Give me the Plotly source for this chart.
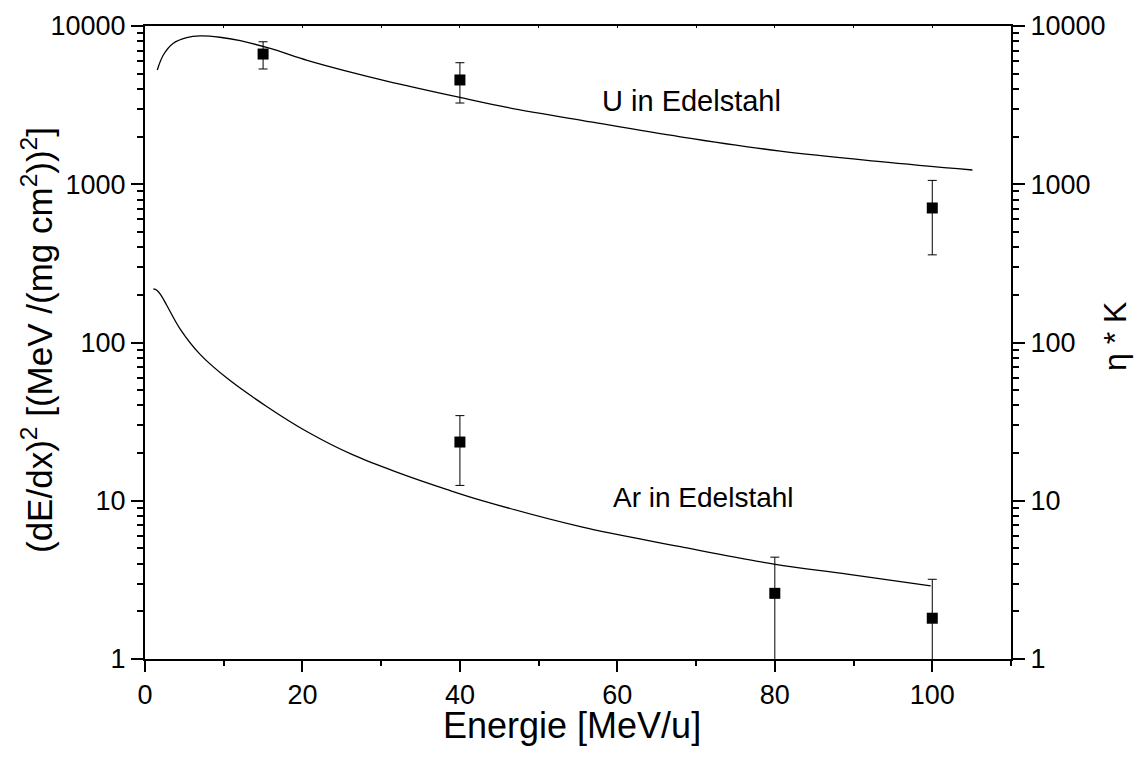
import math
import plotly.graph_objects as go

# ---- data ----
u_curve_x = [1.56, 2.33, 3.6, 5.3, 7.0, 9.5, 12.1, 15.9, 20.6, 25.6, 30.7, 40.0, 46.0, 56.6, 68.0, 80.7, 93.4, 105.1]
u_curve_y = [5270, 6560, 7780, 8440, 8650, 8490, 8080, 7210, 6070, 5190, 4490, 3540, 3060, 2480, 1995, 1620, 1390, 1230]

ar_curve_x = [1.06, 1.5, 2.0, 2.76, 4.45, 7.0, 10.4, 15.5, 20.55, 26.5, 32.4, 38.3, 42.6, 55.3, 68.0, 79.9, 89.2, 99.8]
ar_curve_y = [218, 214, 200, 172, 122, 84.1, 59.6, 39.3, 27.4, 19.4, 14.9, 11.8, 10.1, 6.86, 5.13, 3.98, 3.44, 2.90]

u_pts_x = [15, 40, 100]
u_pts_y = [6650, 4560, 708]
u_pts_err = [1300, 1300, 350]

ar_pts_x = [40, 80, 100]
ar_pts_y = [23.5, 2.6, 1.81]
ar_pts_err = [11.0, 1.8, 1.38]

x_tick_vals = [0, 20, 40, 60, 80, 100]
y_tick_vals = [1, 10, 100, 1000, 10000]
y_tick_text = ["1", "10", "100", "1000", "10000"]

FONT = "Liberation Sans, Arial, sans-serif"

fig = go.Figure()

fig.add_trace(go.Scatter(x=u_curve_x, y=u_curve_y, mode="lines",
                         line=dict(color="black", width=1.3, shape="spline", smoothing=1.0),
                         showlegend=False))
fig.add_trace(go.Scatter(x=ar_curve_x, y=ar_curve_y, mode="lines",
                         line=dict(color="black", width=1.3, shape="spline", smoothing=1.0),
                         showlegend=False))
fig.add_trace(go.Scatter(x=u_pts_x, y=u_pts_y, mode="markers",
                         marker=dict(symbol="square", size=11, color="black"),
                         error_y=dict(type="data", array=u_pts_err, color="black",
                                      thickness=1, width=4.5),
                         showlegend=False))
fig.add_trace(go.Scatter(x=ar_pts_x, y=ar_pts_y, mode="markers",
                         marker=dict(symbol="square", size=11, color="black"),
                         error_y=dict(type="data", array=ar_pts_err, color="black",
                                      thickness=1, width=4.5),
                         showlegend=False))
# invisible traces to activate right and top axes
fig.add_trace(go.Scatter(x=[None], y=[None], yaxis="y2", showlegend=False))
fig.add_trace(go.Scatter(x=[None], y=[None], xaxis="x2", showlegend=False))

axis_common = dict(showline=True, linecolor="black", linewidth=2,
                   ticks="outside", tickcolor="black", tickwidth=2,
                   showgrid=False, zeroline=False,
                   tickfont=dict(family=FONT, size=27, color="black"))

fig.update_layout(
    width=1136, height=758,
    margin=dict(l=145, r=125, t=26, b=99),
    paper_bgcolor="white", plot_bgcolor="white",
    xaxis=dict(range=[0, 110], tickvals=x_tick_vals, ticklen=11,
               minor=dict(ticks="outside", ticklen=5, tickwidth=2, tickcolor="black", dtick=10),
               **axis_common),
    xaxis2=dict(range=[0, 110], overlaying="x", side="top", showline=True,
                linecolor="black", linewidth=2, ticks="inside", ticklen=2,
                tickwidth=1, tickcolor="black", dtick=10, showticklabels=False,
                showgrid=False, zeroline=False),
    yaxis=dict(type="log", range=[0, 4], tickvals=y_tick_vals, ticktext=y_tick_text,
               ticklen=12,
               minor=dict(ticks="outside", ticklen=6, tickwidth=2, tickcolor="black", dtick="D1"),
               **axis_common),
    yaxis2=dict(type="log", range=[0, 4], tickvals=y_tick_vals, ticktext=y_tick_text,
                overlaying="y", side="right", ticklen=12,
                minor=dict(ticks="outside", ticklen=6, tickwidth=2, tickcolor="black", dtick="D1"),
                **axis_common),
)

annotations = [
    dict(text="U in Edelstahl", x=69.4, y=math.log10(3357), xref="x", yref="y",
         showarrow=False, xanchor="center", yanchor="middle",
         font=dict(family=FONT, size=29, color="black")),
    dict(text="Ar in Edelstahl", x=70.9, y=math.log10(10.56), xref="x", yref="y",
         showarrow=False, xanchor="center", yanchor="middle",
         font=dict(family=FONT, size=28, color="black")),
    dict(text="Energie [MeV/u]", x=(572 - 145) / 866, y=(659 - 725) / 633,
         xref="paper", yref="paper", showarrow=False, xanchor="center", yanchor="middle",
         font=dict(family=FONT, size=36, color="black")),
    dict(text="(dE/dx)<sup>2</sup> [(MeV /(mg cm<sup>2</sup>))<sup>2</sup>]",
         x=(37 - 145) / 866, y=(659 - 340) / 633, textangle=-90,
         xref="paper", yref="paper", showarrow=False, xanchor="center", yanchor="middle",
         font=dict(family=FONT, size=35, color="black")),
    dict(text="η * K", x=(1115 - 145) / 866, y=(659 - 337) / 633, textangle=-90,
         xref="paper", yref="paper", showarrow=False, xanchor="center", yanchor="middle",
         font=dict(family=FONT, size=32, color="black")),
]
fig.update_layout(annotations=annotations)

fig.write_html("out.html")
